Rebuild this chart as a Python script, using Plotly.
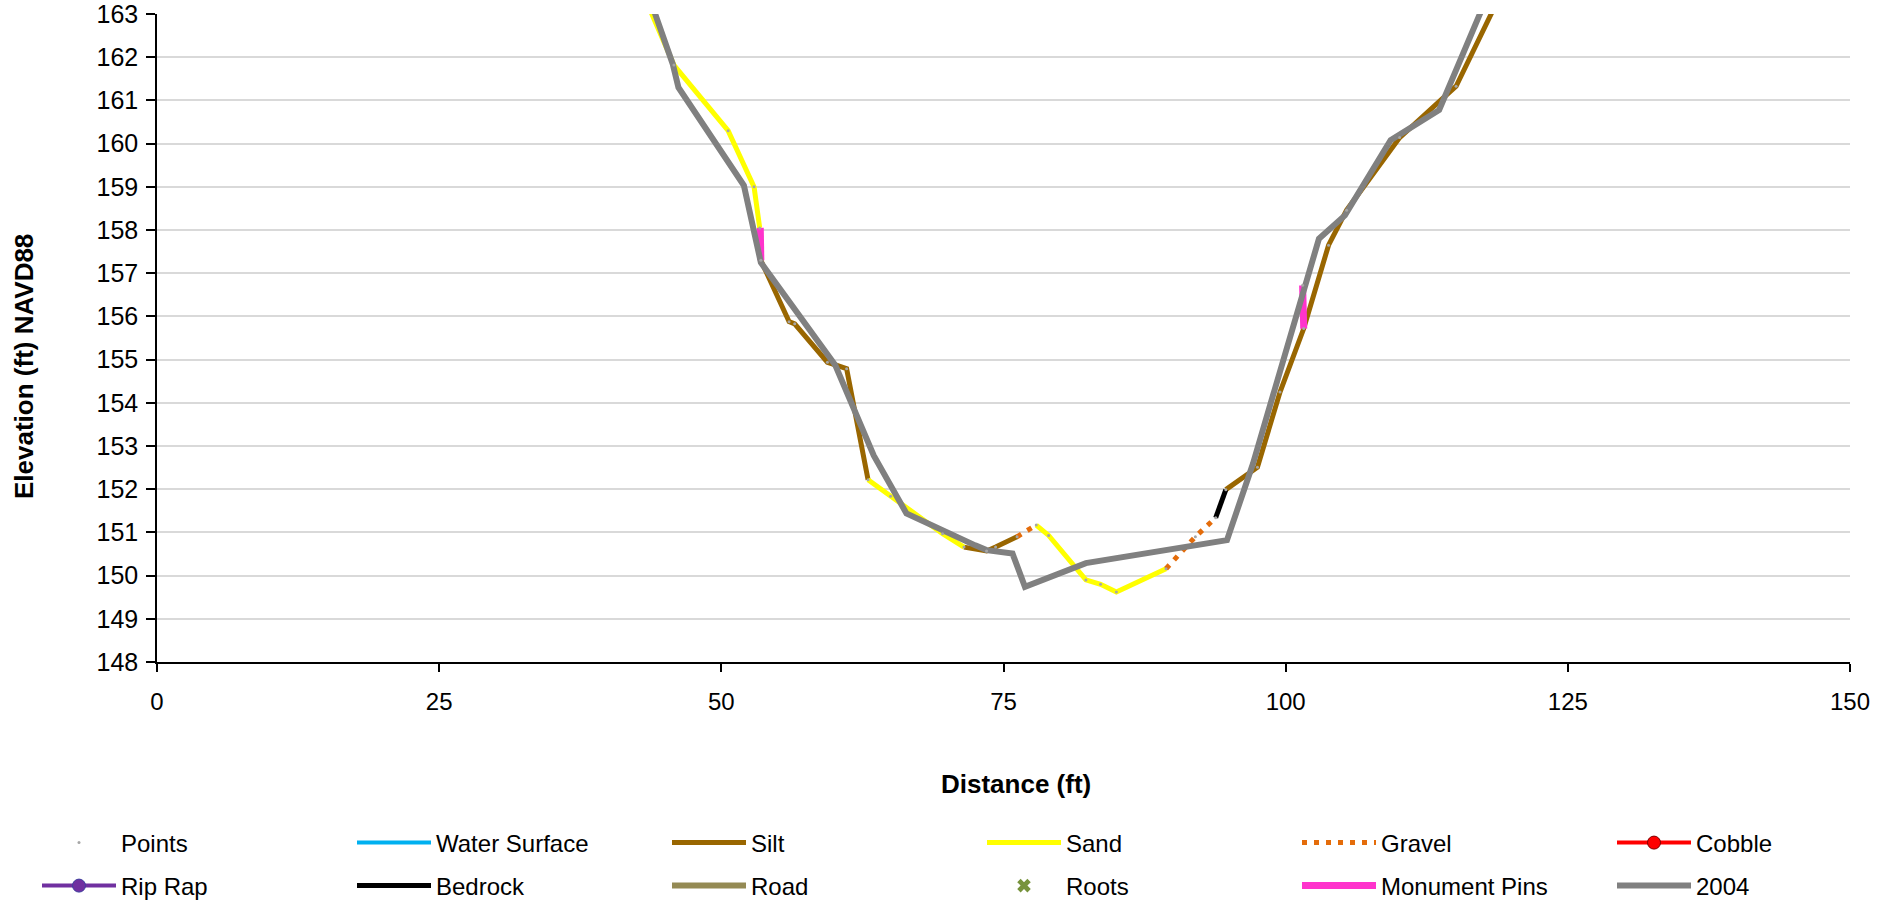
import plotly.graph_objects as go

# Cross-section survey: distance (ft) vs elevation (ft NAVD88)
# Material segments of the current survey; None separates runs of the same material
silt_x = [53.5, 56.0, 56.5, 59.4, 61.1, 63.0, None, 71.5, 73.5, 74.3, 76.2, None,
          94.7, 97.5, 99.5, 101.6, 103.8, 105.4, 110.1, 115.1, 119.5]
silt_y = [157.3, 155.88, 155.83, 154.94, 154.79, 152.22, None, 150.66, 150.57, 150.66, 150.9, None,
          151.99, 152.51, 154.25, 155.72, 157.65, 158.46, 160.14, 161.33, 163.7]

sand_x = [42.9, 45.8, 50.6, 52.9, 53.4, None, 63.0, 65.0, 69.6, 71.5, None,
          77.9, 79.0, 82.3, 83.6, 85.0, 89.4]
sand_y = [163.57, 161.82, 160.30, 159.0, 158.05, None, 152.22, 151.84, 150.97, 150.66, None,
          151.17, 150.93, 149.9, 149.8, 149.62, 150.16]

gravel_x = [76.2, 77.9, None, 89.4, 92.0, 93.8]
gravel_y = [150.9, 151.17, None, 150.16, 150.9, 151.34]

bedrock_x = [93.8, 94.7]
bedrock_y = [151.34, 151.99]

pins_x = [53.45, 53.5, None, 101.5, 101.6]
pins_y = [158.05, 157.3, None, 156.72, 155.72]

# Surveyed shots
points_x = [45.8, 50.6, 52.9, 53.4, 53.5, 56.0, 56.5, 59.4, 61.1, 63.0, 65.0, 69.6, 71.5,
            73.5, 74.3, 76.2, 77.9, 79.0, 82.3, 83.6, 85.0, 89.4, 92.0, 93.8, 94.7, 97.5,
            99.5, 101.6, 101.5, 103.8, 105.4, 110.1, 115.1]
points_y = [161.82, 160.30, 159.0, 158.05, 157.3, 155.88, 155.83, 154.94, 154.79, 152.22,
            151.84, 150.97, 150.66, 150.57, 150.66, 150.9, 151.17, 150.93, 149.9, 149.8,
            149.62, 150.16, 150.9, 151.34, 151.99, 152.51, 154.25, 155.72, 156.72, 157.65,
            158.46, 160.14, 161.33]

# 2004 profile
y2004_x = [42.8, 45.7, 46.2, 52.0, 53.5, 60.1, 63.5, 66.4, 72.5, 73.5, 75.8, 76.9, 82.3,
           94.8, 97.1, 102.95, 105.25, 109.3, 113.6, 118.5]
y2004_y = [164.0, 161.84, 161.3, 159.03, 157.25, 154.87, 152.78, 151.44, 150.70, 150.59,
           150.51, 149.74, 150.29, 150.82, 152.59, 157.8, 158.34, 160.08, 160.78, 163.8]

x_ticks = [0, 25, 50, 75, 100, 125, 150]
y_ticks = list(range(148, 164))

FONT = "Liberation Sans, Arial, sans-serif"

fig = go.Figure()

def line_trace(name, x, y, color, width, rank, legend, dash="solid", mode="lines", marker=None):
    kw = dict(x=x, y=y, name=name, mode=mode, legendrank=rank, legend=legend,
              line=dict(color=color, width=width, dash=dash), connectgaps=False)
    if marker is not None:
        kw["marker"] = marker
    return go.Scatter(**kw)

# legend rows: "legend"/"legend2" = first row, "legend3"/"legend4" = second row
fig.add_trace(line_trace("Water Surface", [None], [None], "#00B0F0", 4, 2, "legend"))
fig.add_trace(line_trace("Silt", silt_x, silt_y, "#996600", 5, 3, "legend"))
fig.add_trace(line_trace("Sand", sand_x, sand_y, "#FFFF00", 5, 4, "legend2"))
fig.add_trace(line_trace("Gravel", gravel_x, gravel_y, "#E46C0A", 5, 5, "legend2", dash="5px,7px"))
fig.add_trace(line_trace("Cobble", [None], [None], "#FF0000", 4, 6, "legend2", mode="lines+markers",
                         marker=dict(symbol="circle", size=13, color="#FF0000",
                                     line=dict(color="#7F0000", width=1))))
fig.add_trace(line_trace("Rip Rap", [None], [None], "#7030A0", 4, 7, "legend3", mode="lines+markers",
                         marker=dict(symbol="circle", size=13, color="#7030A0",
                                     line=dict(color="#3F3F9F", width=1))))
fig.add_trace(line_trace("Bedrock", bedrock_x, bedrock_y, "#000000", 5, 8, "legend3"))
fig.add_trace(line_trace("Road", [None], [None], "#948A54", 6, 9, "legend3"))
fig.add_trace(go.Scatter(x=[None], y=[None], name="Roots", mode="markers", legendrank=10,
                         legend="legend4",
                         marker=dict(symbol="x", size=12, color="#77933C")))
fig.add_trace(line_trace("Monument Pins", pins_x, pins_y, "#FF33CC", 7, 11, "legend4"))
fig.add_trace(line_trace("2004", y2004_x, y2004_y, "#808080", 6, 12, "legend4"))
fig.add_trace(go.Scatter(x=points_x, y=points_y, name="Points", mode="markers", legendrank=1,
                         legend="legend",
                         marker=dict(symbol="circle", size=3, color="#A6A6A6")))

W, H = 1902, 901
ml, mr, mt, mb = 157, 52, 14, 239
pw, ph = W - ml - mr, H - mt - mb

def px_x(px):
    return (px - ml) / pw

def px_y(py):
    return (H - mb - py) / ph

COL = 315          # legend column pitch (px)
LEG_X0 = 37        # left edge of the first legend column (px)
ROW1, ROW2 = 843, 886

def legend_at(px, py):
    return dict(orientation="h", xref="container", yref="container",
                x=px / W, y=1 - py / H, xanchor="left", yanchor="middle",
                font=dict(family=FONT, size=24, color="#000000"),
                bgcolor="rgba(0,0,0,0)", itemwidth=74,
                entrywidth=COL - 74 - 15, entrywidthmode="pixels",
                traceorder="normal", itemclick=False, itemdoubleclick=False)

fig.update_layout(
    width=W, height=H,
    margin=dict(l=ml, r=mr, t=mt, b=mb, pad=0, autoexpand=False),
    paper_bgcolor="#FFFFFF", plot_bgcolor="#FFFFFF",
    font=dict(family=FONT, size=24, color="#000000"),
    showlegend=True,
    legend=legend_at(LEG_X0, ROW1),
    legend2=legend_at(LEG_X0 + 3 * COL, ROW1),
    legend3=legend_at(LEG_X0, ROW2),
    legend4=legend_at(LEG_X0 + 3 * COL, ROW2),
    xaxis=dict(range=[0, 150], tickmode="array", tickvals=x_ticks,
               ticktext=[str(v) for v in x_ticks],
               showgrid=False, zeroline=False, showline=True, linecolor="#000000",
               linewidth=1.5, ticks="outside", ticklen=8, tickwidth=1.5, tickcolor="#000000",
               tickfont=dict(family=FONT, size=24, color="#000000"),
               ticklabelstandoff=9, fixedrange=True),
    yaxis=dict(range=[148, 163.002], tickmode="array", tickvals=y_ticks,
               ticktext=[str(v) for v in y_ticks],
               showgrid=True, gridcolor="#D9D9D9", gridwidth=1.5, zeroline=False,
               showline=True, linecolor="#000000", linewidth=1.5,
               ticks="outside", ticklen=9, tickwidth=1.5, tickcolor="#000000",
               tickfont=dict(family=FONT, size=25, color="#000000"),
               ticklabelstandoff=3, ticklabeloverflow="allow", fixedrange=True),
    annotations=[
        dict(text="<b>Elevation (ft) NAVD88</b>", x=px_x(24), y=px_y(367),
             xref="paper", yref="paper", showarrow=False, textangle=-90,
             xanchor="center", yanchor="middle",
             font=dict(family=FONT, size=26, color="#000000")),
        dict(text="<b>Distance (ft)</b>", x=px_x(1016), y=px_y(784),
             xref="paper", yref="paper", showarrow=False,
             xanchor="center", yanchor="middle",
             font=dict(family=FONT, size=26, color="#000000")),
    ],
)

fig.write_html("out.html")
